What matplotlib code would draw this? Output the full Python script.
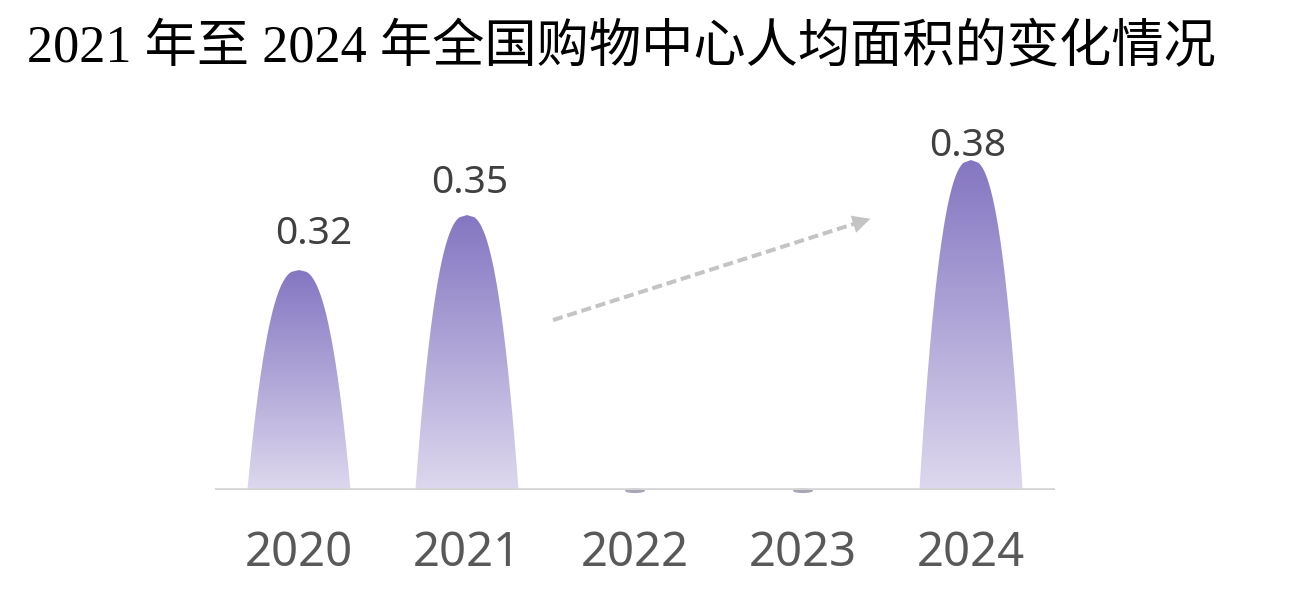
import matplotlib
matplotlib.use("Agg")
import matplotlib.pyplot as plt
import numpy as np
from matplotlib.path import Path
from matplotlib.patches import PathPatch, Ellipse
from matplotlib.colors import LinearSegmentedColormap

# data
years = ["2020", "2021", "2022", "2023", "2024"]
area_per_capita = [0.32, 0.35, 0, 0, 0.38]
title = "2021 年至 2024 年全国购物中心人均面积的变化情况"

# style
y_min, y_max = 0.2, 0.4073
half_width = 0.307
top_color = "#8576c2"
bottom_color = "#ddd8ee"
label_dy = [36, 32, 0, 0, 14]  # label offset above peak, px
label_dx = [15, 3, 0, 0, -3]

fig = plt.figure(figsize=(13.07, 6.06), dpi=100)
ax = fig.add_axes([215 / 1307, 116 / 606, 840 / 1307, 380 / 606])
ax.set_xlim(-0.5, len(years) - 0.5)
ax.set_ylim(y_min, y_max)

cmap = LinearSegmentedColormap.from_list("peak", [bottom_color, top_color])
grad = np.linspace(0, 1, 256).reshape(-1, 1)

for i, v in enumerate(area_per_capita):
    if v <= y_min:
        # zero values show as a tiny stub under the axis
        ax.add_patch(Ellipse((i, y_min - 0.0004), 0.12, 0.0025,
                             facecolor="#6f6a85", edgecolor="none",
                             alpha=0.6, clip_on=False, zorder=1))
        continue
    s = np.linspace(0, 1, 120)
    w = half_width * s ** 0.4
    ys = v - s * (v - y_min)
    xs = np.concatenate([i - w[::-1], i + w])
    yy = np.concatenate([ys[::-1], ys])
    verts = np.column_stack([xs, yy])
    patch = PathPatch(Path(verts), facecolor="none", edgecolor="none")
    ax.add_patch(patch)
    im = ax.imshow(grad, cmap=cmap, aspect="auto", origin="lower",
                   extent=(i - half_width, i + half_width, y_min, v), zorder=2)
    im.set_clip_path(patch)
    ax.annotate(f"{v:.2f}", (i, v), xytext=(label_dx[i] * 0.72, label_dy[i] * 0.72),
                textcoords="offset points", ha="center", va="center",
                fontsize=28, family="Noto Sans", color="#404040")

# baseline
ax.axhline(y_min, color="#d4d4d4", lw=2.6, zorder=3)

# trend arrow
ax.plot([1.512, 3.38], [0.2927, 0.3474], ls=(0, (2.5, 1.2)), lw=2.9,
        color="#c4c4c4", zorder=1)
ax.annotate("", xy=(3.417, 0.3484), xytext=(3.3, 0.345),
            arrowprops=dict(arrowstyle="-|>", mutation_scale=32, lw=0,
                            color="#c4c4c4"))

ax.set_xticks(range(len(years)))
ax.set_xticklabels(years, fontsize=34, family="Noto Sans", color="#595959")
ax.tick_params(axis="x", length=0, pad=29)
ax.set_yticks([])
for sp in ax.spines.values():
    sp.set_visible(False)

fig.text(27 / 1307, 1 - 49 / 606, title, ha="left", va="center", fontsize=37.6,
         family=["Liberation Serif", "Noto Sans CJK SC"], color="black")

fig.savefig("out.png", dpi=100)
